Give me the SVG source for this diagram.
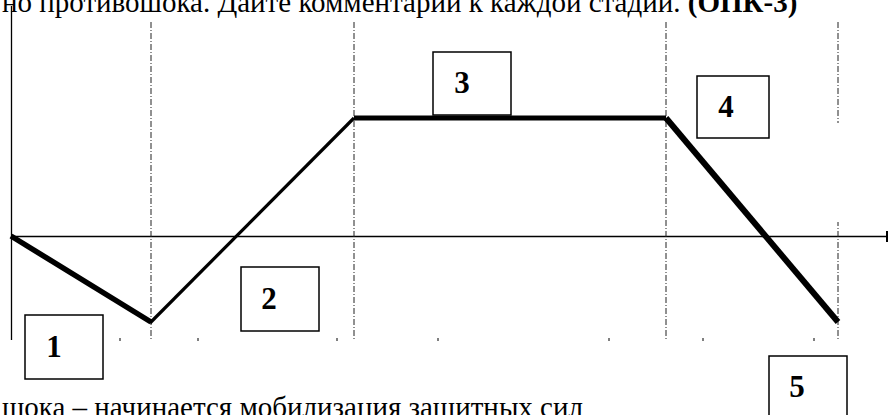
<svg xmlns="http://www.w3.org/2000/svg" width="888" height="415" viewBox="0 0 888 415">
<style>
.txt{font-family:"Liberation Serif","Times New Roman",serif;font-size:29px;fill:#000}
.b{font-weight:bold}
.lbl{font-family:"Liberation Serif","Times New Roman",serif;font-size:31px;font-weight:bold;fill:#000;text-anchor:middle}
.box{fill:#fff;stroke:#000;stroke-width:1.5}
.grid{stroke:#222;stroke-width:1;stroke-dasharray:6,2,1,2;fill:none}
.axis{stroke:#000;stroke-width:1.3;fill:none}
.tick{stroke:#000;stroke-width:1}
</style>
<rect width="888" height="415" fill="#fff"/>
<text class="txt" x="2" y="12">но противошока. Дайте комментарии к каждой стадии. <tspan class="b">(ОПК-3)</tspan></text>
<g id="axes">
<line class="axis" x1="11.5" y1="6" x2="11.5" y2="340"/>
<line class="axis" x1="11" y1="236.5" x2="887" y2="236.5"/>
<line x1="887" y1="231" x2="887" y2="242" stroke="#000" stroke-width="2"/>
</g>
<g id="grid">
<line class="grid" x1="151" y1="22" x2="151" y2="340"/>
<line class="grid" x1="354" y1="22" x2="354" y2="340"/>
<line class="grid" x1="666" y1="22" x2="666" y2="340"/>
<line class="grid" x1="838" y1="22" x2="838" y2="340"/>
</g>
<g id="ticks">
<line class="tick" x1="120" y1="338" x2="120" y2="341"/>
<line class="tick" x1="198" y1="338" x2="198" y2="341"/>
<line class="tick" x1="337" y1="338" x2="337" y2="341"/>
<line class="tick" x1="438" y1="338" x2="438" y2="341"/>
<line class="tick" x1="609" y1="338" x2="609" y2="341"/>
<line class="tick" x1="703" y1="338" x2="703" y2="341"/>
<line class="tick" x1="814" y1="338" x2="814" y2="341"/>
</g>
<g id="connectors" fill="none" stroke="#000" stroke-linejoin="miter">
<line x1="11" y1="236" x2="151" y2="322" stroke-width="5.5"/>
<line x1="150" y1="323" x2="354" y2="118" stroke-width="3.2"/>
<line x1="354" y1="118" x2="666" y2="118" stroke-width="5"/>
<line x1="666" y1="118" x2="838" y2="322" stroke-width="6"/>
</g>
<g id="node1"><rect class="box" x="25" y="315" width="78" height="64"/><text class="lbl" x="54" y="357">1</text></g>
<g id="node2"><rect class="box" x="241" y="267" width="78" height="64"/><text class="lbl" x="269" y="309">2</text></g>
<g id="node3"><rect class="box" x="433" y="52" width="78" height="63"/><text class="lbl" x="462" y="93">3</text></g>
<g id="node4"><rect class="box" x="697" y="76" width="72" height="62"/><text class="lbl" x="726" y="117">4</text></g>
<rect x="770" y="123" width="118" height="99" fill="#fff"/>
<g id="node5"><rect class="box" x="769" y="356" width="78" height="70"/><text class="lbl" x="797" y="397">5</text></g>
<text class="txt" x="2" y="417">шока – начинается мобилизация защитных сил</text>
</svg>
